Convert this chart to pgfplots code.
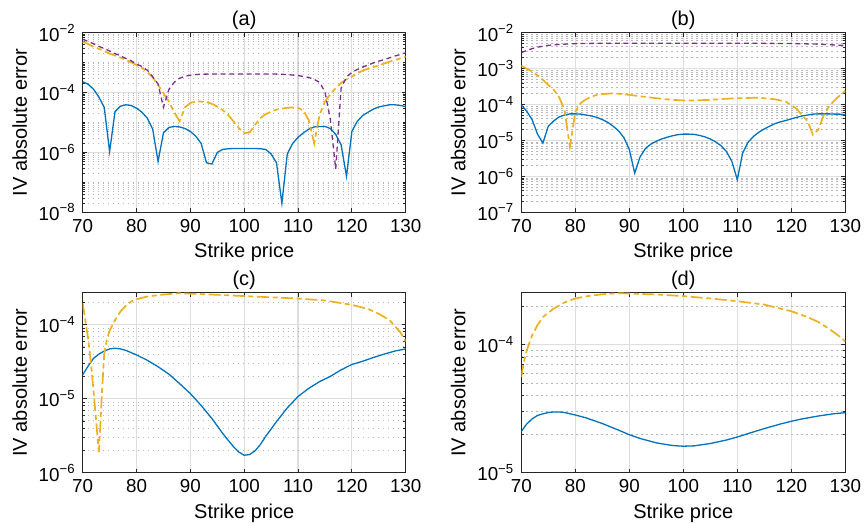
\documentclass[border=0pt]{standalone}
\usepackage{fontspec}
\setmainfont{Liberation Sans}
\usepackage{pgfplots}
\pgfplotsset{compat=1.18}

\definecolor{mblue}{rgb}{0,0.447,0.741}
\definecolor{morange}{rgb}{0.929,0.694,0.125}
\definecolor{mpurple}{rgb}{0.494,0.184,0.556}
\definecolor{axisgray}{rgb}{0.15,0.15,0.15}
\definecolor{gridgray}{rgb}{0.87,0.87,0.87}
\definecolor{minorgray}{rgb}{0.72,0.72,0.72}

\newcommand{\tp}[1]{10\textsuperscript{−#1}}

\pgfplotsset{
  ivpanel/.style={
    scale only axis,
    xmin=70, xmax=130, xtick={70,80,...,130},
    axis line style={draw=axisgray, line width=0.5pt},
    tick align=inside,
    major tick length=2pt, minor tick length=1.2pt,
    tick style={draw=axisgray, line width=0.4pt},
    xmajorgrids, ymajorgrids, yminorgrids,
    major grid style={draw=gridgray, line width=0.6pt},
    minor grid style={draw=minorgray, dash pattern=on 0.6pt off 1.9pt, line width=0.5pt},
    xlabel={Strike price}, ylabel={IV absolute error},
    tick label style={font=\fontsize{9.4}{11}\selectfont, text=black},
    label style={font=\fontsize{10}{12}\selectfont, text=black},
    xlabel style={yshift=1.5pt},
    ylabel style={yshift=-1pt},
    title style={font=\fontsize{10}{12}\selectfont, yshift=-8pt},
    /pgf/number format/assume math mode=true,
  },
}
\tikzset{
  sA/.style={mblue, line width=0.65pt},
  sB/.style={morange, line width=0.85pt, dash pattern=on 6pt off 1.8pt on 2.5pt off 1.8pt},
  sC/.style={mpurple, line width=0.65pt, dash pattern=on 2.5pt off 1.8pt},
}

\begin{document}
\begin{tikzpicture}
\path[use as bounding box] (0,0) rectangle (432.5pt,261.5pt);

% ---------------- (a) ----------------
\begin{axis}[ymode=log, ivpanel, at={(41.35pt,155.35pt)}, anchor=south west,
  width=161.5pt, height=89.8pt, title={(a)},
  ymin=1e-8, ymax=1e-2,
  ytick={1e-8,1e-6,1e-4,1e-2},
  yticklabels={\tp{8},\tp{6},\tp{4},\tp{2}},
  minor ytick={2e-8,3e-8,4e-8,5e-8,6e-8,7e-8,8e-8,9e-8,1e-7,2e-7,3e-7,4e-7,5e-7,6e-7,7e-7,8e-7,9e-7,
    2e-6,3e-6,4e-6,5e-6,6e-6,7e-6,8e-6,9e-6,1e-5,2e-5,3e-5,4e-5,5e-5,6e-5,7e-5,8e-5,9e-5,
    2e-4,3e-4,4e-4,5e-4,6e-4,7e-4,8e-4,9e-4,1e-3,2e-3,3e-3,4e-3,5e-3,6e-3,7e-3,8e-3,9e-3}]
\addplot[sA] table {
70 2.3e-4
71 1.9e-4
72 1.3e-4
73 7.1e-5
74 3.2e-5
75 1.07e-6
76 2.3e-5
77 3.5e-5
78 3.9e-5
79 3.7e-5
80 3.0e-5
81 2.2e-5
82 1.4e-5
83 6.0e-6
84 5.0e-7
85 4.5e-6
86 6.8e-6
87 7.4e-6
88 7.1e-6
89 6.3e-6
90 5.0e-6
91 3.5e-6
92 2.0e-6
93 4.5e-7
94 4.1e-7
95 1.0e-6
96 1.26e-6
97 1.33e-6
98 1.35e-6
99 1.35e-6
100 1.35e-6
101 1.35e-6
102 1.35e-6
103 1.33e-6
104 1.26e-6
105 8.9e-7
106 4.5e-7
107 2.0e-8
108 8.9e-7
109 2.0e-6
110 3.2e-6
111 4.5e-6
112 6.0e-6
113 7.1e-6
114 7.4e-6
115 7.4e-6
116 6.3e-6
117 4.0e-6
118 1.8e-6
119 1.6e-7
120 5.0e-6
121 1.1e-5
122 1.7e-5
123 2.2e-5
124 2.8e-5
125 3.3e-5
126 3.6e-5
127 3.9e-5
128 3.9e-5
129 3.7e-5
130 3.4e-5
};
\addplot[sB] table {
70 5.0e-3
71 4.2e-3
72 3.4e-3
73 2.9e-3
74 2.45e-3
75 2.0e-3
76 1.74e-3
77 1.48e-3
78 1.23e-3
79 1.02e-3
80 8.3e-4
81 6.6e-4
82 5.0e-4
83 3.2e-4
84 1.8e-4
85 9.5e-5
86 5.0e-5
87 2.2e-5
88 1.1e-5
89 3.2e-5
90 4.5e-5
91 5.0e-5
92 5.0e-5
93 4.8e-5
94 4.2e-5
95 3.4e-5
96 2.6e-5
97 1.8e-5
98 1.1e-5
99 6.5e-6
100 4.4e-6
101 4.6e-6
102 8.3e-6
103 1.4e-5
104 1.9e-5
105 2.3e-5
106 2.7e-5
107 2.9e-5
108 3.1e-5
109 3.2e-5
110 3.1e-5
111 2.5e-5
112 1.2e-5
113 2.0e-6
114 1.8e-5
115 5.0e-5
116 8.9e-5
117 1.4e-4
118 2.1e-4
119 2.75e-4
120 3.4e-4
121 4.4e-4
122 5.4e-4
123 6.2e-4
124 7.1e-4
125 8.1e-4
126 9.3e-4
127 1.07e-3
128 1.23e-3
129 1.38e-3
130 1.58e-3
};
\addplot[sC] table {
70 6.0e-3
71 5.1e-3
72 4.3e-3
73 3.5e-3
74 2.95e-3
75 2.45e-3
76 2.0e-3
77 1.7e-3
78 1.38e-3
79 1.15e-3
80 9.0e-4
81 7.4e-4
82 5.6e-4
83 3.4e-4
84 1.9e-4
85 3.2e-5
86 1.26e-4
87 2.2e-4
88 3.0e-4
89 3.5e-4
90 3.8e-4
91 4.0e-4
92 4.1e-4
95 4.2e-4
100 4.2e-4
105 4.2e-4
108 4.0e-4
110 3.7e-4
112 3.2e-4
113 2.75e-4
114 2.2e-4
115 1.07e-4
116 1.26e-5
117 2.8e-7
118 1.4e-4
119 3.3e-4
120 4.7e-4
121 5.9e-4
122 7.1e-4
123 8.3e-4
124 9.8e-4
125 1.12e-3
126 1.26e-3
127 1.45e-3
128 1.66e-3
129 1.86e-3
130 2.14e-3
};
\end{axis}

% ---------------- (b) ----------------
\begin{axis}[ymode=log, ivpanel, at={(260.65pt,155.35pt)}, anchor=south west,
  width=162pt, height=89.8pt, title={(b)},
  ymin=1e-7, ymax=1e-2,
  ytick={1e-7,1e-6,1e-5,1e-4,1e-3,1e-2},
  yticklabels={\tp{7},\tp{6},\tp{5},\tp{4},\tp{3},\tp{2}},
  minor ytick={2e-7,3e-7,4e-7,5e-7,6e-7,7e-7,8e-7,9e-7,
    2e-6,3e-6,4e-6,5e-6,6e-6,7e-6,8e-6,9e-6,2e-5,3e-5,4e-5,5e-5,6e-5,7e-5,8e-5,9e-5,
    2e-4,3e-4,4e-4,5e-4,6e-4,7e-4,8e-4,9e-4,2e-3,3e-3,4e-3,5e-3,6e-3,7e-3,8e-3,9e-3}]
\addplot[sA] table {
70 9.8e-5
71 6.5e-5
72 3.8e-5
73 1.5e-5
74 8.5e-6
75 2.5e-5
76 3.5e-5
77 4.5e-5
78 5.1e-5
79 5.5e-5
80 5.5e-5
81 5.4e-5
82 5.1e-5
83 4.8e-5
84 4.4e-5
85 3.8e-5
86 3.2e-5
87 2.5e-5
88 1.86e-5
89 1.2e-5
90 5.6e-6
91 1.23e-6
92 3.5e-6
93 6.0e-6
94 7.9e-6
95 9.5e-6
96 1.1e-5
97 1.23e-5
98 1.35e-5
99 1.45e-5
100 1.5e-5
101 1.5e-5
102 1.48e-5
103 1.38e-5
104 1.26e-5
105 1.1e-5
106 9.1e-6
107 7.1e-6
108 4.9e-6
109 2.6e-6
110 8.1e-7
111 4.5e-6
112 8.9e-6
113 1.3e-5
114 1.7e-5
115 2.1e-5
116 2.5e-5
117 2.95e-5
118 3.3e-5
119 3.6e-5
120 4.0e-5
121 4.4e-5
122 4.8e-5
123 5.1e-5
124 5.4e-5
125 5.5e-5
126 5.5e-5
127 5.5e-5
128 5.4e-5
129 5.4e-5
130 5.2e-5
};
\addplot[sB] table {
70 1.2e-3
71 1.0e-3
72 8.3e-4
73 6.5e-4
74 4.9e-4
75 3.5e-4
76 2.6e-4
77 1.6e-4
78 7.1e-5
79 6.6e-6
80 6.3e-5
81 1.1e-4
82 1.4e-4
83 1.66e-4
84 1.86e-4
85 1.95e-4
86 2.0e-4
87 2.05e-4
88 2.0e-4
90 1.86e-4
92 1.7e-4
95 1.5e-4
98 1.35e-4
100 1.3e-4
102 1.3e-4
105 1.35e-4
108 1.45e-4
110 1.5e-4
114 1.55e-4
117 1.4e-4
119 1.2e-4
120 9.5e-5
121 7.6e-5
122 5.0e-5
123 3.5e-5
124 1.45e-5
125 2.0e-5
126 5.0e-5
127 8.9e-5
128 1.3e-4
129 1.8e-4
130 2.4e-4
};
\addplot[sC] table {
70 2.8e-3
71 3.2e-3
72 3.6e-3
73 3.95e-3
74 4.2e-3
75 4.45e-3
76 4.6e-3
77 4.7e-3
78 4.8e-3
80 4.95e-3
85 5.1e-3
90 5.1e-3
100 5.1e-3
110 5.1e-3
115 5.05e-3
120 5.0e-3
125 4.8e-3
130 4.4e-3
};
\end{axis}

% ---------------- (c) ----------------
\begin{axis}[ymode=log, ivpanel, at={(41.35pt,25.15pt)}, anchor=south west,
  width=161.5pt, height=90pt, title={(c)},
  ymin=1e-6, ymax=2.7e-4,
  ytick={1e-6,1e-5,1e-4},
  yticklabels={\tp{6},\tp{5},\tp{4}},
  minor ytick={2e-6,3e-6,4e-6,5e-6,6e-6,7e-6,8e-6,9e-6,2e-5,3e-5,4e-5,5e-5,6e-5,7e-5,8e-5,9e-5,2e-4}]
\addplot[sA] table {
70 2.1e-5
71 2.75e-5
72 3.5e-5
73 4.0e-5
74 4.4e-5
75 4.7e-5
76 4.8e-5
77 4.7e-5
78 4.5e-5
80 3.9e-5
82 3.3e-5
84 2.7e-5
86 2.15e-5
88 1.6e-5
90 1.17e-5
92 8.1e-6
94 5.4e-6
96 3.4e-6
97 2.75e-6
98 2.25e-6
99 1.9e-6
100 1.72e-6
101 1.76e-6
102 1.97e-6
103 2.4e-6
104 3.1e-6
106 4.9e-6
108 7.5e-6
110 1.07e-5
112 1.38e-5
114 1.7e-5
116 2.0e-5
118 2.45e-5
120 2.9e-5
122 3.2e-5
124 3.6e-5
126 4.0e-5
128 4.4e-5
130 4.7e-5
};
\addplot[sB] table {
70 1.95e-4
71 6.5e-5
71.5 3.2e-5
72 1.3e-5
72.5 5.0e-6
73 1.9e-6
73.3 4.7e-6
73.6 1.3e-5
74 4.0e-5
74.5 6.3e-5
75 8.3e-5
76 1.15e-4
77 1.5e-4
78 1.8e-4
79 2.05e-4
80 2.2e-4
81 2.3e-4
82 2.4e-4
85 2.55e-4
88 2.66e-4
90 2.62e-4
95 2.53e-4
100 2.43e-4
105 2.34e-4
110 2.25e-4
115 2.12e-4
120 1.85e-4
123 1.63e-4
125 1.4e-4
127 1.15e-4
128 9.5e-5
129 7.9e-5
130 5.9e-5
};
\end{axis}

% ---------------- (d) ----------------
\begin{axis}[ymode=log, ivpanel, at={(260.65pt,25.15pt)}, anchor=south west,
  width=162pt, height=90pt, title={(d)},
  ymin=1e-5, ymax=2.54e-4,
  ytick={1e-5,1e-4},
  yticklabels={\tp{5},\tp{4}},
  minor ytick={2e-5,3e-5,4e-5,5e-5,6e-5,7e-5,8e-5,9e-5,2e-4}]
\addplot[sA] table {
70 2.1e-5
71 2.4e-5
72 2.63e-5
73 2.8e-5
74 2.88e-5
75 2.95e-5
76 2.98e-5
77 2.98e-5
78 2.95e-5
80 2.82e-5
82 2.68e-5
85 2.42e-5
88 2.15e-5
90 1.98e-5
92 1.85e-5
95 1.71e-5
98 1.63e-5
100 1.61e-5
102 1.62e-5
105 1.69e-5
108 1.8e-5
110 1.9e-5
112 2.02e-5
115 2.21e-5
118 2.4e-5
120 2.52e-5
122 2.63e-5
125 2.77e-5
128 2.89e-5
130 2.94e-5
};
\addplot[sB] table {
70 5.6e-5
70.5 7.4e-5
71 9.0e-5
72 1.18e-4
73 1.42e-4
74 1.64e-4
76 1.91e-4
78 2.13e-4
80 2.29e-4
82 2.38e-4
85 2.47e-4
88 2.52e-4
90 2.5e-4
95 2.46e-4
100 2.39e-4
105 2.29e-4
110 2.18e-4
115 2.05e-4
120 1.82e-4
123 1.64e-4
125 1.5e-4
127 1.33e-4
129 1.15e-4
130 1.06e-4
};
\end{axis}
\end{tikzpicture}
\end{document}
